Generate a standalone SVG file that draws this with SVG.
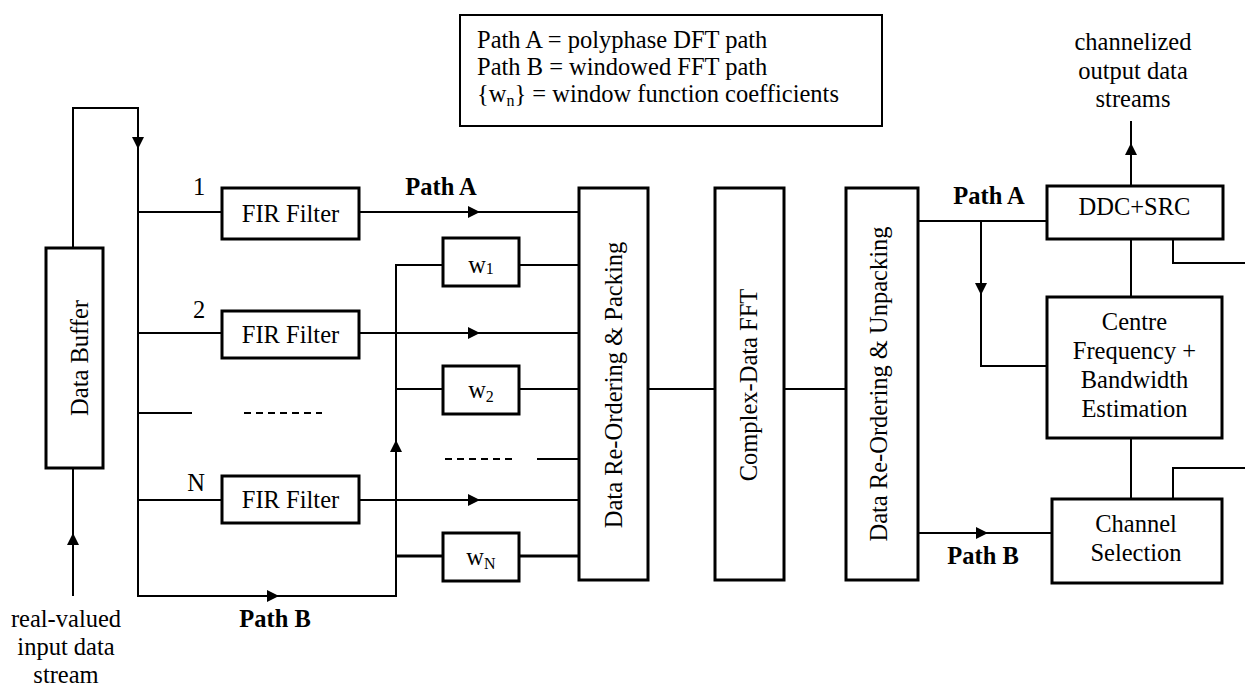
<svg xmlns="http://www.w3.org/2000/svg" width="1245" height="686" viewBox="0 0 1245 686">
<style>
text{font-family:"Liberation Serif","Times New Roman",serif;font-size:24.5px;fill:#000}
.b{font-weight:bold}
.box{fill:#fff;stroke:#000;stroke-width:3}
.ln{fill:none;stroke:#000;stroke-width:2}
.thk{stroke-width:3}
.d{stroke-dasharray:7,5}
.sub{font-size:16px}
</style>
<defs>
<marker id="ar" viewBox="0 0 12 12" refX="12" refY="6" markerWidth="12" markerHeight="12" markerUnits="userSpaceOnUse" orient="auto">
<path d="M0,0 L12,6 L0,12 Z" fill="#000"/>
</marker>
</defs>
<rect width="1245" height="686" fill="#fff"/>

<g id="connectors">
<path class="ln" d="M73,596 L73,533" marker-end="url(#ar)"/>
<path class="ln" d="M73,533 L73,468"/>
<path class="ln" d="M73,248 L73,108 L138,108 L138,149" marker-end="url(#ar)"/>
<path class="ln" d="M138,149 L138,596 L279,596" marker-end="url(#ar)"/>
<path class="ln" d="M279,596 L396,596 L396,440" marker-end="url(#ar)"/>
<path class="ln" d="M396,440 L396,265 L443,265"/>
<path class="ln" d="M138,212 L222,212"/>
<path class="ln" d="M138,333 L222,333"/>
<path class="ln" d="M138,413 L192,413"/>
<path class="ln d" d="M244,413 L322,413"/>
<path class="ln" d="M138,500 L222,500"/>
<path class="ln" d="M359,212 L480,212" marker-end="url(#ar)"/>
<path class="ln" d="M480,212 L579,212"/>
<path class="ln" d="M359,333 L480,333" marker-end="url(#ar)"/>
<path class="ln" d="M480,333 L579,333"/>
<path class="ln" d="M359,500 L480,500" marker-end="url(#ar)"/>
<path class="ln" d="M480,500 L579,500"/>
<path class="ln" d="M519,265 L579,265"/>
<path class="ln" d="M396,389 L443,389"/>
<path class="ln" d="M519,389 L579,389"/>
<path class="ln d" d="M445,459 L517,459"/>
<path class="ln" d="M537,459 L579,459"/>
<path class="ln thk" d="M396,556 L443,556"/>
<path class="ln thk" d="M519,556 L579,556"/>
<path class="ln" d="M648,389 L715,389"/>
<path class="ln" d="M784,389 L846,389"/>
<path class="ln" d="M918,221 L1047,221"/>
<path class="ln" d="M981,221 L981,295" marker-end="url(#ar)"/>
<path class="ln" d="M981,295 L981,366 L1047,366"/>
<path class="ln" d="M918,533 L988,533" marker-end="url(#ar)"/>
<path class="ln" d="M988,533 L1052,533"/>
<path class="ln" d="M1131,186 L1131,143" marker-end="url(#ar)"/>
<path class="ln" d="M1131,143 L1131,121"/>
<path class="ln" d="M1131,239 L1131,297"/>
<path class="ln" d="M1131,438 L1131,499"/>
<path class="ln" d="M1173,239 L1173,263 L1245,263"/>
<path class="ln" d="M1173,499 L1173,468 L1245,468"/>
</g>

<g id="legend">
<rect x="460" y="15" width="422" height="111" fill="#fff" stroke="#000" stroke-width="2"/>
<text x="477" y="48">Path A = polyphase DFT path</text>
<text x="477" y="75">Path B = windowed FFT path</text>
<text x="477" y="102">{w<tspan class="sub" dy="4">n</tspan><tspan dy="-4">} = window function coefficients</tspan></text>
</g>

<g id="data-buffer">
<rect class="box" x="46" y="248" width="57" height="220"/>
<text transform="translate(88,358) rotate(-90)" text-anchor="middle">Data Buffer</text>
</g>

<g id="fir1">
<rect class="box" x="222" y="188" width="137" height="51"/>
<text x="290.5" y="222" text-anchor="middle">FIR Filter</text>
</g>
<g id="fir2">
<rect class="box" x="222" y="311" width="137" height="47"/>
<text x="290.5" y="343" text-anchor="middle">FIR Filter</text>
</g>
<g id="firN">
<rect class="box" x="222" y="476" width="137" height="47"/>
<text x="290.5" y="508" text-anchor="middle">FIR Filter</text>
</g>

<g id="w1">
<rect class="box" x="443" y="238" width="76" height="48"/>
<text x="481" y="273" text-anchor="middle">w<tspan class="sub" dy="1">1</tspan></text>
</g>
<g id="w2">
<rect class="box" x="443" y="366" width="76" height="48"/>
<text x="481" y="398" text-anchor="middle">w<tspan class="sub" dy="4">2</tspan></text>
</g>
<g id="wN">
<rect class="box" x="443" y="533" width="76" height="48"/>
<text x="481" y="565" text-anchor="middle">w<tspan class="sub" dy="4">N</tspan></text>
</g>

<g id="packing">
<rect class="box" x="579" y="188" width="69" height="392"/>
<text transform="translate(621.5,385) rotate(-90)" text-anchor="middle">Data Re-Ordering &amp; Packing</text>
</g>
<g id="fft">
<rect class="box" x="715" y="188" width="69" height="392"/>
<text transform="translate(757,385) rotate(-90)" text-anchor="middle">Complex-Data FFT</text>
</g>
<g id="unpacking">
<rect class="box" x="846" y="188" width="72" height="392"/>
<text transform="translate(887,384) rotate(-90)" text-anchor="middle">Data Re-Ordering &amp; Unpacking</text>
</g>

<g id="ddc">
<rect class="box" x="1047" y="186" width="176" height="53"/>
<text x="1134.5" y="215" text-anchor="middle">DDC+SRC</text>
</g>
<g id="estimation">
<rect class="box" x="1047" y="297" width="175" height="141"/>
<text x="1134.5" y="330" text-anchor="middle">Centre</text>
<text x="1134.5" y="359" text-anchor="middle">Frequency +</text>
<text x="1134.5" y="388" text-anchor="middle">Bandwidth</text>
<text x="1134.5" y="417" text-anchor="middle">Estimation</text>
</g>
<g id="channel-selection">
<rect class="box" x="1052" y="499" width="170" height="84"/>
<text x="1136" y="532" text-anchor="middle">Channel</text>
<text x="1136" y="561" text-anchor="middle">Selection</text>
</g>

<g id="labels">
<text x="199" y="195" text-anchor="middle">1</text>
<text x="199" y="318" text-anchor="middle">2</text>
<text x="196" y="491" text-anchor="middle">N</text>
<text class="b" x="441" y="195" text-anchor="middle">Path A</text>
<text class="b" x="275" y="627" text-anchor="middle">Path B</text>
<text class="b" x="989" y="204" text-anchor="middle">Path A</text>
<text class="b" x="983" y="564" text-anchor="middle">Path B</text>
<text x="66" y="627" text-anchor="middle">real-valued</text>
<text x="66" y="655" text-anchor="middle">input data</text>
<text x="66" y="683" text-anchor="middle">stream</text>
<text x="1133" y="50" text-anchor="middle">channelized</text>
<text x="1133" y="79" text-anchor="middle">output data</text>
<text x="1133" y="107" text-anchor="middle">streams</text>
</g>
</svg>
